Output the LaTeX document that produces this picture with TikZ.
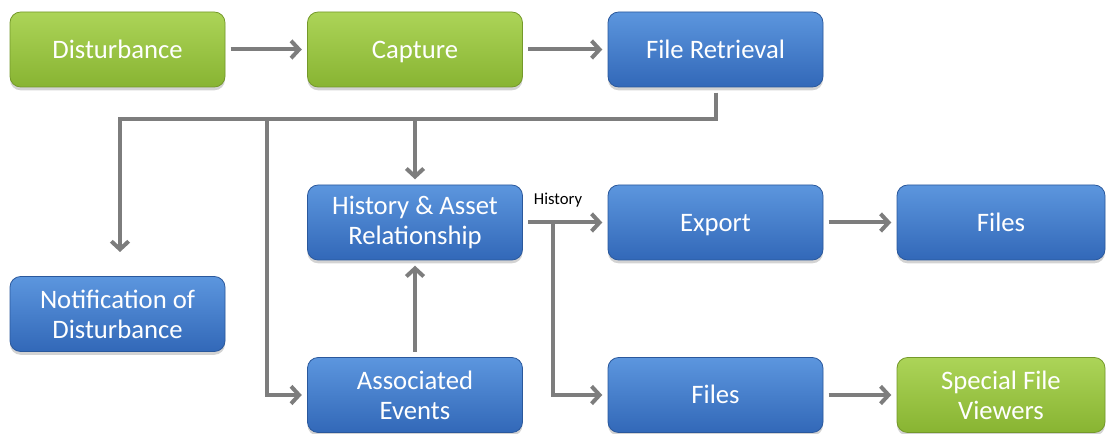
\documentclass[tikz,border=0pt]{standalone}
\usepackage{fontspec}
\setmainfont{Carlito}
\usetikzlibrary{arrows.meta,shadows,calc}
\definecolor{gtop}{RGB}{172,212,88}
\definecolor{gbot}{RGB}{136,180,50}
\definecolor{btop}{RGB}{92,150,222}
\definecolor{bbot}{RGB}{50,104,184}
\definecolor{conncol}{RGB}{125,125,125}
\tikzset{
 box/.style={rounded corners=8pt, minimum width=161.25pt, minimum height=56.25pt, align=center, text=white,
   font=\fontsize{20}{22.5}\selectfont, inner sep=0pt,
   drop shadow={shadow xshift=0pt,shadow yshift=-2.5pt,opacity=0.35}},
 gbox/.style={box, top color=gtop, bottom color=gbot, draw=gbot!85!black, line width=0.6pt},
 bbox/.style={box, top color=btop, bottom color=bbot, draw=bbot!85!black, line width=0.6pt},
 narrow/.style={minimum width=156pt},
 one/.style={text height=16pt, text depth=3pt},
 conn/.style={draw=conncol, line width=3pt, -{Straight Barb[length=6pt,width=13pt]},
   shorten <=4pt, shorten >=4pt},
 lbl/.style={font=\fontsize{12.5}{14}\selectfont, text=black, inner sep=0pt}
}
\begin{document}
\begin{tikzpicture}[x=0.75pt,y=-0.75pt]
\useasboundingbox (0,0) rectangle (1106,434);
\node[gbox,one] (dist) at (117.5,49.5) {Disturbance};
\node[gbox,one] (cap) at (415,49.5) {Capture};
\node[bbox,one] (fr) at (715.5,49.5) {File Retrieval};
\node[bbox] (notif) at (117.5,314) {Notification of\\Disturbance};
\node[bbox] (hist) at (415,222.5) {History \& Asset\\Relationship};
\node[bbox,one] (exp) at (715.5,222.5) {Export};
\node[bbox,narrow,one] (filest) at (1001,222.5) {Files};
\node[bbox] (assoc) at (415,395) {Associated\\Events};
\node[bbox,one] (filesb) at (715.5,395) {Files};
\node[gbox,narrow] (sfv) at (1001,395) {Special File\\Viewers};
\coordinate (n1) at (120,252);
\coordinate (j1) at (715.5,119);
\coordinate (j2) at (267,119);
\coordinate (j3) at (553,222.5);

\draw[conn] (dist) -- (cap);
\draw[conn] (cap) -- (fr);
\draw[conn, shorten >=0pt] (fr.south) -- (j1) -| (n1);
\draw[conn, shorten <=0pt] (j1 -| hist.north) -- (hist.north);
\draw[conn, shorten <=0pt] (j2) |- (assoc.west);
\draw[conn] (assoc.north) -- (hist.south);
\draw[conn] (hist.east) -- (exp.west);
\draw[conn, shorten <=0pt] (j3) |- (filesb.west);
\draw[conn] (exp) -- (filest);
\draw[conn] (filesb) -- (sfv);
\node[lbl] (hl) at (558,200) {History};
\end{tikzpicture}
\end{document}
